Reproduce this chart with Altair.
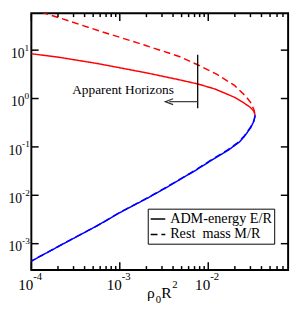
import altair as alt
import pandas as pd

W, H = 264, 264
FONT = "Liberation Serif"

# ---- data ----
ADM = "ADM-energy E/R"
REST = "Rest\u00a0 mass M/R"

adm_up_x = [1.0e-4, 2.11e-4, 5.78e-4, 2.04e-3, 4.70e-3, 7.79e-3, 0.01196, 0.01982, 0.02551, 0.03007, 0.03283, 0.03394]
adm_up_y = [8.43, 7.07, 5.23, 3.37, 2.44, 1.98, 1.57, 1.06, 0.803, 0.652, 0.542, 0.450]
rest_up_x = [1.0e-4, 2.11e-4, 5.78e-4, 1.587e-3, 4.70e-3, 7.79e-3, 0.01259, 0.01982, 0.02662, 0.03022, 0.03283, 0.03394]
rest_up_y = [70.8, 46.1, 25.2, 14.15, 7.40, 4.88, 3.145, 1.864, 1.11, 0.821, 0.594, 0.450]
low_x = [0.03394, 0.03283, 0.03022, 0.02551, 0.02249, 0.01674, 0.01101, 7.22e-3, 4.70e-3, 3.114e-3, 2.043e-3, 9.58e-4, 5.78e-4, 2.11e-4, 1.0e-4]
adm_low_y = [0.450, 0.341, 0.250, 0.1626, 0.126, 0.0850, 0.0535, 0.0329, 0.0207, 0.01335, 0.00869, 0.00420, 0.00244, 0.000912, 0.000435]
rest_low_y = [0.450, 0.350, 0.258, 0.168, 0.130, 0.0875, 0.0548, 0.0336, 0.0211, 0.01355, 0.00880, 0.00424, 0.00246, 0.000918, 0.000437]

x_major = [1e-4, 1e-3, 1e-2]
x_major_exp = ["-4", "-3", "-2"]
x_minor = [m * 1e-4 for m in range(2, 10)] + [m * 1e-3 for m in range(2, 10)] + [m * 1e-2 for m in range(2, 8)]
y_major = [1e-3, 1e-2, 1e-1, 1.0, 10.0]
y_major_exp = ["-3", "-2", "-1", "0", "1"]

annot_text = "Apparent Horizons"
annot_pos = (0.001089, 1.52)
horizon_x = 0.0076
horizon_y = (0.631, 8.05)
arrow_y = 0.861
arrow_x_end = 0.00362

rows = []
for qty, branch, xs_, ys_ in [
    (ADM, "upper", adm_up_x, adm_up_y),
    (REST, "upper", rest_up_x, rest_up_y),
    (ADM, "lower", low_x, adm_low_y),
    (REST, "lower", low_x, rest_low_y),
]:
    for i, (a, b) in enumerate(zip(xs_, ys_)):
        rows.append({"x": a, "y": b, "qty": qty, "branch": branch, "ord": i})
df = pd.DataFrame(rows)

xs = alt.Scale(type="log", domain=[1e-4, 0.08], nice=False)
ys = alt.Scale(type="log", domain=[2.86e-4, 58], nice=False)


def X(f):
    return alt.X(f, type="quantitative", scale=xs, axis=None)


def Y(f):
    return alt.Y(f, type="quantitative", scale=ys, axis=None)


lines = alt.Chart(df).mark_line(clip=True, strokeWidth=1.5).encode(
    x=X("x"),
    y=Y("y"),
    color=alt.Color("branch:N", scale=alt.Scale(domain=["upper", "lower"], range=["#ff0000", "#0000ff"]), legend=None),
    strokeDash=alt.StrokeDash(
        "qty:N",
        scale=alt.Scale(domain=[ADM, REST], range=[[1, 0], [7, 4]]),
        legend=alt.Legend(
            title=None, orient="none", legendX=119.7, legendY=201,
            symbolType="stroke", symbolStrokeColor="black", symbolStrokeWidth=1.5,
            symbolSize=225, labelFont=FONT, labelFontSize=14.6, labelColor="black",
            strokeColor="black", fillColor="white", padding=2, rowPadding=0,
            labelOffset=4, labelLimit=0,
        ),
    ),
    order="ord:Q",
)

xmaj_df = pd.DataFrame({"v": x_major, "e": x_major_exp})
xmin_df = pd.DataFrame({"v": x_minor})
ymaj_df = pd.DataFrame({"v": y_major, "e": y_major_exp})

tick = dict(color="black", strokeWidth=1.5)
ticks = [
    alt.Chart(xmaj_df).mark_rule(**tick).encode(x=X("v"), y=alt.value(H), y2=alt.value(H - 8)),
    alt.Chart(xmaj_df).mark_rule(**tick).encode(x=X("v"), y=alt.value(0), y2=alt.value(8)),
    alt.Chart(xmin_df).mark_rule(**tick).encode(x=X("v"), y=alt.value(H), y2=alt.value(H - 4)),
    alt.Chart(xmin_df).mark_rule(**tick).encode(x=X("v"), y=alt.value(0), y2=alt.value(4)),
    alt.Chart(ymaj_df).mark_rule(**tick).encode(y=Y("v"), x=alt.value(0), x2=alt.value(7.5)),
    alt.Chart(ymaj_df).mark_rule(**tick).encode(y=Y("v"), x=alt.value(W), x2=alt.value(W - 7.5)),
]

# tick labels: "10" with a raised exponent
xl10 = alt.Chart(xmaj_df).mark_text(font=FONT, fontSize=15.5, align="right", baseline="alphabetic", dx=2, color="black").encode(
    x=X("v"), y=alt.value(285), text=alt.value("10"))
xlexp = alt.Chart(xmaj_df).mark_text(font=FONT, fontSize=11, align="left", baseline="alphabetic", dx=2, color="black").encode(
    x=X("v"), y=alt.value(274), text="e:N")

yl_neg = ymaj_df[ymaj_df["e"].str.startswith("-")]
yl_pos = ymaj_df[~ymaj_df["e"].str.startswith("-")]
ylabels = []
for sub, off in [(yl_neg, -9.5), (yl_pos, -7.0)]:
    ylabels.append(alt.Chart(sub).mark_text(font=FONT, fontSize=14, align="right", baseline="alphabetic", dy=8, color="black").encode(
        y=Y("v"), x=alt.value(off), text=alt.value("10")))
    ylabels.append(alt.Chart(sub).mark_text(font=FONT, fontSize=9.5, align="left", baseline="alphabetic", dy=0.5, color="black").encode(
        y=Y("v"), x=alt.value(off), text="e:N"))

# axis title rho_0 R^2
title_parts = [
    ("\u03c1", 16, 119, 293),
    ("0", 11, 128, 298),
    ("R", 16, 133.5, 293),
    ("2", 11, 145, 283),
]
titles = [
    alt.Chart(pd.DataFrame({"t": [t]})).mark_text(font=FONT, fontSize=fs, align="left", baseline="alphabetic", color="black").encode(
        x=alt.value(px), y=alt.value(py), text="t:N")
    for t, fs, px, py in title_parts
]

# annotation
ann_df = pd.DataFrame({"x": [annot_pos[0]], "y": [annot_pos[1]], "t": [annot_text]})
ann = alt.Chart(ann_df).mark_text(font=FONT, fontSize=13.7, align="center", baseline="middle", color="black").encode(
    x=X("x"), y=Y("y"), text="t:N")
vline = alt.Chart(pd.DataFrame({"x": [horizon_x], "y": [horizon_y[0]], "y2": [horizon_y[1]]})).mark_rule(color="black", strokeWidth=1.3).encode(
    x=X("x"), y=Y("y"), y2="y2:Q")
arrow = alt.Chart(pd.DataFrame({"x": [arrow_x_end], "x2": [horizon_x], "y": [arrow_y]})).mark_rule(color="#333333", strokeWidth=1.2).encode(
    x=X("x"), x2="x2:Q", y=Y("y"))
head = alt.Chart(pd.DataFrame({"x": [arrow_x_end], "y": [arrow_y]})).mark_point(
    shape="M1,-0.75L-1,0L1,0.75", size=64, filled=False, color="#333333", strokeWidth=1.2, opacity=1).encode(
    x=X("x"), y=Y("y"))

chart = alt.layer(
    lines, *ticks, xl10, xlexp, *ylabels, *titles, ann, vline, arrow, head
).properties(
    width=W, height=H,
    autosize=alt.AutoSizeParams(type="none"),
    padding={"left": 24, "top": 1, "right": 4, "bottom": 44},
).configure_view(stroke="black", strokeWidth=2)

chart.save("out.html", embed_options={"renderer": "svg", "actions": False})
